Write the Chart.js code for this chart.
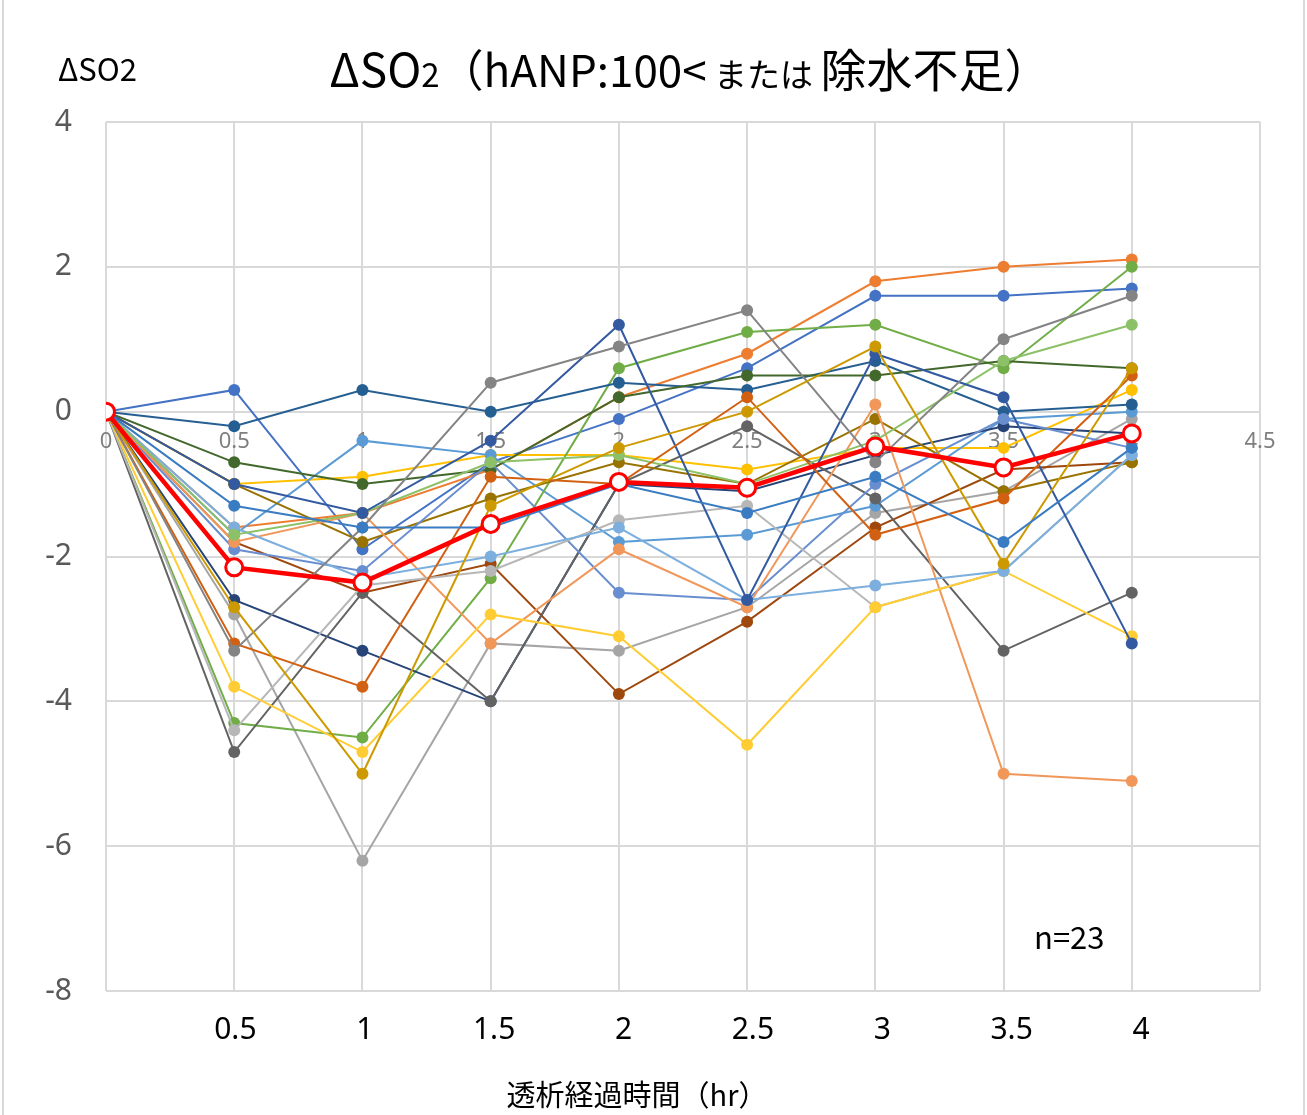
<!DOCTYPE html>
<html>
<head>
<meta charset="utf-8">
<script src="https://cdn.jsdelivr.net/npm/chart.js@4.4.1/dist/chart.umd.min.js"></script>
<style>
  html, body { margin: 0; padding: 0; background: #fff; }
  #wrap { width: 1307px; height: 1115px; }
</style>
</head>
<body>
<div id="wrap"><canvas id="so2-chart" width="1307" height="1115"></canvas></div>
<script>
// Hours since dialysis start
const hours = [0, 0.5, 1, 1.5, 2, 2.5, 3, 3.5, 4];

// ΔSO2 per patient (n=23)
const p01 = [0, 0.3, -1.9, -0.7, -0.1, 0.6, 1.6, 1.6, 1.7];
const p02 = [0, -1.6, -1.4, -0.8, 0.2, 0.8, 1.8, 2.0, 2.1];
const p03 = [0, -2.8, -6.2, -3.2, -3.3, -2.7, -1.4, -1.1, -0.1];
const p04 = [0, -1.0, -0.9, -0.6, -0.6, -0.8, -0.5, -0.5, 0.3];
const p05 = [0, -1.7, -0.4, -0.6, -1.8, -1.7, -1.3, -0.1, 0.0];
const p06 = [0, -4.3, -4.5, -2.3, 0.6, 1.1, 1.2, 0.6, 2.0];
const p07 = [0, -2.6, -3.3, -4.0, -1.0, -1.1, -0.6, -0.2, -0.3];
const p08 = [0, -1.8, -2.5, -2.1, -3.9, -2.9, -1.6, -0.8, -0.7];
const p09 = [0, -4.7, -2.5, -4.0, -1.0, -0.2, -1.2, -3.3, -2.5];
const p10 = [0, -1.0, -1.8, -1.2, -0.7, -1.0, -0.1, -1.1, -0.7];
const p11 = [0, -0.2, 0.3, 0.0, 0.4, 0.3, 0.7, 0.0, 0.1];
const p12 = [0, -0.7, -1.0, -0.8, 0.2, 0.5, 0.5, 0.7, 0.6];
const p13 = [0, -1.9, -2.2, -0.7, -2.5, -2.6, -1.0, -0.1, -0.5];
const p14 = [0, -1.8, -1.4, -3.2, -1.9, -2.7, 0.1, -5.0, -5.1];
const p15 = [0, -4.4, -2.4, -2.2, -1.5, -1.3, -2.7, -2.2, -0.6];
const p16 = [0, -3.8, -4.7, -2.8, -3.1, -4.6, -2.7, -2.2, -3.1];
const p17 = [0, -1.6, -2.3, -2.0, -1.6, -2.6, -2.4, -2.2, -0.6];
const p18 = [0, -1.7, -1.4, -0.7, -0.6, -1.0, -0.4, 0.7, 1.2];
const p19 = [0, -1.0, -1.4, -0.4, 1.2, -2.6, 0.8, 0.2, -3.2];
const p20 = [0, -3.2, -3.8, -0.9, -1.0, 0.2, -1.7, -1.2, 0.5];
const p21 = [0, -3.3, -1.6, 0.4, 0.9, 1.4, -0.7, 1.0, 1.6];
const p22 = [0, -2.7, -5.0, -1.3, -0.5, 0.0, 0.9, -2.1, 0.6];
const p23 = [0, -1.3, -1.6, -1.6, -1.0, -1.4, -0.9, -1.8, -0.5];

// group mean
const meanValues = [0, -2.15, -2.36, -1.55, -0.97, -1.05, -0.48, -0.77, -0.30];

// labels under the plot
const hourLabels = [0.5, 1, 1.5, 2, 2.5, 3, 3.5, 4];

const patients = [p01, p02, p03, p04, p05, p06, p07, p08, p09, p10, p11, p12,
                  p13, p14, p15, p16, p17, p18, p19, p20, p21, p22, p23];

// office-style series colours
const palette = [
  '#4472C4', '#ED7D31', '#A5A5A5', '#FFC000', '#5B9BD5', '#70AD47',
  '#264478', '#9E480E', '#636363', '#997300', '#255E91', '#43682B',
  '#698ED0', '#F1975A', '#B7B7B7', '#FFCD33', '#7CAFDD', '#8CC168',
  '#335AA1', '#D26012', '#848484', '#CC9A00', '#3A7CC2'
];

const toPoints = vals => vals.map((v, i) => ({ x: hours[i], y: v }));

const datasets = patients.map((vals, i) => ({
  data: toPoints(vals),
  borderColor: palette[i],
  backgroundColor: palette[i],
  pointBackgroundColor: palette[i],
  pointBorderWidth: 0,
  pointRadius: 6,
  borderWidth: 2,
  order: 1 + (patients.length - i),
  xAxisID: 'x',
  yAxisID: 'y'
}));

datasets.push({
  data: toPoints(meanValues),
  borderColor: '#FF0000',
  backgroundColor: '#FF0000',
  pointBackgroundColor: '#FFFFFF',
  pointBorderColor: '#FF0000',
  pointBorderWidth: 3,
  pointRadius: 8.5,
  borderWidth: 4.5,
  order: 0,
  xAxisID: 'x',
  yAxisID: 'y'
});

const JP = "'Noto Sans CJK JP', 'Noto Sans', sans-serif";

// title, corner labels and frame
const decorations = {
  id: 'decorations',
  beforeDraw(chart) {
    const ctx = chart.ctx;
    ctx.save();
    ctx.fillStyle = '#fff';
    ctx.fillRect(0, 0, chart.width, chart.height);
    ctx.restore();
  },
  afterDraw(chart) {
    const ctx = chart.ctx;
    ctx.save();

    // outer frame
    ctx.strokeStyle = '#d9d9d9';
    ctx.lineWidth = 2;
    ctx.beginPath();
    ctx.moveTo(3, 0); ctx.lineTo(3, chart.height);
    ctx.moveTo(1304, 0); ctx.lineTo(1304, chart.height);
    ctx.stroke();

    // axis unit label
    ctx.fillStyle = '#000';
    ctx.textBaseline = 'alphabetic';
    ctx.textAlign = 'left';
    ctx.font = '31px ' + JP;
    ctx.fillText('ΔSO2', 58, 81);

    // mixed-size title
    const parts = [
      { t: 'ΔSO', size: 46 },
      { t: '2', size: 33 },
      { t: '（hANP:100<', size: 44 },
      { t: ' または ', size: 33 },
      { t: '除水不足）', size: 46 }
    ];
    let total = 0;
    parts.forEach(p => {
      ctx.font = p.size + 'px ' + JP;
      p.w = ctx.measureText(p.t).width;
      total += p.w;
    });
    let x = 690 - total / 2;
    parts.forEach(p => {
      ctx.font = p.size + 'px ' + JP;
      ctx.fillText(p.t, x, 87);
      x += p.w;
    });

    // x axis caption
    ctx.textAlign = 'center';
    ctx.font = '29px ' + JP;
    ctx.fillText('透析経過時間（hr）', 637, 1106);

    // sample size
    ctx.textAlign = 'left';
    ctx.font = '31px ' + JP;
    ctx.fillText('n=23', 1034, 949);
    ctx.restore();
  }
};

new Chart(document.getElementById('so2-chart'), {
  type: 'line',
  data: { datasets },
  options: {
    responsive: false,
    animation: false,
    layout: { padding: { top: 122, right: 47, left: 0, bottom: 0 } },
    plugins: {
      legend: { display: false },
      tooltip: { enabled: false },
      title: { display: false }
    },
    scales: {
      x: {
        type: 'linear',
        min: 0,
        max: 4.5,
        position: { y: 0 },
        ticks: {
          stepSize: 0.5,
          color: '#7f7f7f',
          font: { size: 22, family: "'Noto Sans', sans-serif" },
          padding: 17,
          callback: v => String(v)
        },
        grid: { color: '#d9d9d9', lineWidth: 2, drawTicks: false },
        border: { color: '#d9d9d9', width: 2 }
      },
      x2: {
        type: 'linear',
        axis: 'x',
        min: 0,
        max: 4.46,
        position: 'bottom',
        afterBuildTicks: s => { s.ticks = hourLabels.map(v => ({ value: v })); },
        ticks: {
          color: '#000',
          font: { size: 30, family: "'Noto Sans', sans-serif" },
          padding: 21,
          callback: v => String(v)
        },
        grid: { display: false, drawTicks: false },
        border: { display: false },
        afterFit: s => { s.height = 124; }
      },
      y: {
        min: -8,
        max: 4,
        ticks: {
          stepSize: 2,
          color: '#595959',
          font: { size: 30, family: "'Noto Sans', sans-serif" },
          padding: 34
        },
        grid: { color: '#d9d9d9', lineWidth: 2, drawTicks: false },
        border: { display: false },
        afterFit: s => { s.width = 106; }
      }
    }
  },
  plugins: [decorations]
});
</script>
</body>
</html>
